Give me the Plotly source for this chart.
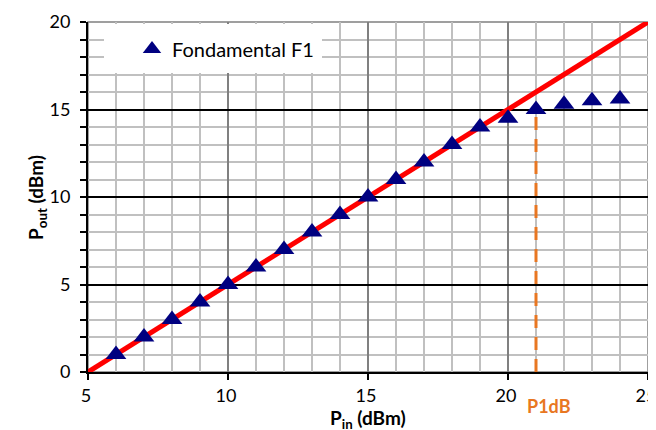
import plotly.graph_objects as go

# Data
pin_meas = [6, 7, 8, 9, 10, 11, 12, 13, 14, 15, 16, 17, 18, 19, 20, 21, 22, 23, 24]
pout_meas = [1, 2, 3, 4, 5, 6, 7, 8, 9, 10, 11, 12, 13, 14, 14.5, 15, 15.3, 15.5, 15.6]
pin_lin = [5, 25]
pout_lin = [0, 20]
p1db_x = [21, 21]
p1db_y = [0, 15]
x_ticks = [5, 10, 15, 20, 25]
y_ticks = [0, 5, 10, 15, 20]

FONT = "Lato"
OFF = 8  # page body margin
W, H = 656 - OFF, 430 - OFF
L, R, T, B = 88 - OFF, 8, 22 - OFF, 58
PW, PH = W - L - R, H - T - B

def px_x(p):  # page pixel -> paper
    return (p - OFF - L) / PW

def px_y(p):
    return (H - B - (p - OFF)) / PH

fig = go.Figure()
fig.add_trace(go.Scatter(x=pin_lin, y=pout_lin, mode="lines",
                         line=dict(color="#FF0000", width=5), showlegend=False))
fig.add_trace(go.Scatter(x=p1db_x, y=p1db_y, mode="lines",
                         line=dict(color="#E87722", width=3, dash="13px,9px"), showlegend=False))
fig.add_trace(go.Scatter(x=pin_meas, y=pout_meas, mode="markers", name="Fondamental F1",
                         marker=dict(symbol="triangle-up", size=18, color="#000080",
                                     line=dict(width=0))))

# Plot border and white legend background box
fig.add_shape(type="rect", xref="paper", yref="paper", x0=0, x1=1, y0=0, y1=1,
              line=dict(color="#808080", width=1.5), layer="below")
fig.add_shape(type="rect", xref="paper", yref="paper",
              x0=px_x(104), x1=px_x(322), y0=px_y(73), y1=px_y(24),
              fillcolor="white", line=dict(width=0), layer="above")

fig.add_annotation(x=21.45, y=0, yshift=-34, text="<b>P1dB</b>", showarrow=False,
                   font=dict(family=FONT, size=18, color="#E87722"))
fig.add_annotation(x=15, y=0, yshift=-47, text="<b>P<sub>in</sub> (dBm)</b>", showarrow=False,
                   font=dict(family=FONT, size=19, color="#000000"))
fig.add_annotation(xref="paper", yref="paper", x=px_x(22), y=px_y(198),
                   text="<b>P<sub>out</sub> (dBm)</b>", textangle=-90, showarrow=False,
                   font=dict(family=FONT, size=19, color="#000000"))

fig.update_layout(
    width=W, height=H,
    margin=dict(l=L, r=R, t=T, b=B),
    paper_bgcolor="white", plot_bgcolor="white",
    font=dict(family=FONT, size=18, color="#000000"),
    legend=dict(x=px_x(132), y=px_y(49), xanchor="left", yanchor="middle",
                bgcolor="rgba(0,0,0,0)", font=dict(family=FONT, size=20)),
    xaxis=dict(range=[5, 25], tickvals=x_ticks, showgrid=True, gridcolor="#808080", gridwidth=1.5,
               showline=True, linecolor="#000000", linewidth=2, ticks="outside", ticklen=6,
               tickwidth=2, tickcolor="#000000", zeroline=False, automargin=False,
               ticklabeloverflow="allow", ticklabelshift=-2,
               minor=dict(dtick=1, showgrid=True, gridcolor="#c0c0c0", gridwidth=1.5)),
    yaxis=dict(range=[0, 20], tickvals=y_ticks, showgrid=True, gridcolor="#000000", gridwidth=2,
               showline=True, linecolor="#000000", linewidth=2, ticks="outside", ticklen=6,
               tickwidth=2, tickcolor="#000000", zeroline=False, automargin=False,
               ticklabelstandoff=6,
               minor=dict(dtick=1, showgrid=True, gridcolor="#c0c0c0", gridwidth=1.5,
                          ticks="outside", ticklen=6, tickwidth=2, tickcolor="#000000")),
)

fig.write_html("out.html")
